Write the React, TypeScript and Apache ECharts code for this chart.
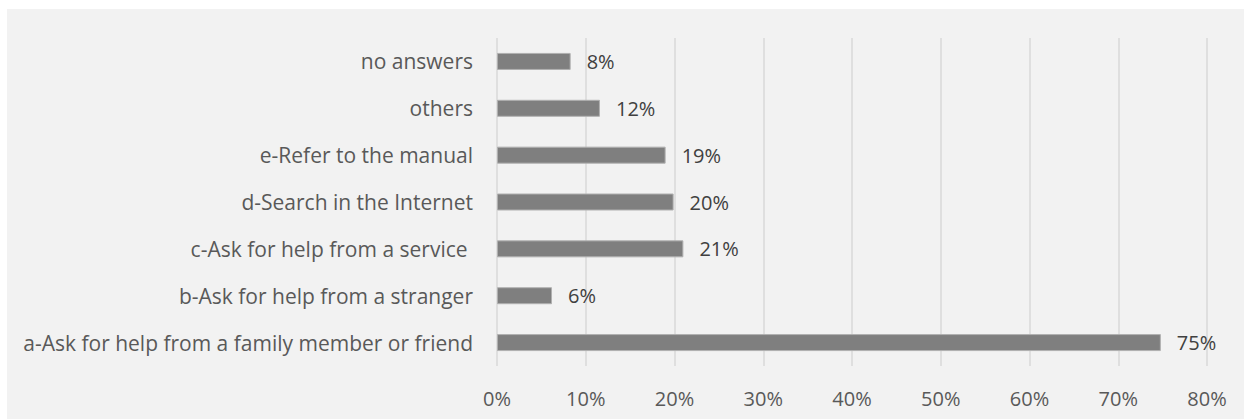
import React, { useEffect, useRef } from "react";
import * as echarts from "echarts";

const categories = [
  "a-Ask for help from a family member or friend",
  "b-Ask for help from a stranger",
  "c-Ask for help from a service ",
  "d-Search in the Internet",
  "e-Refer to the manual",
  "others",
  "no answers",
];
const values = [74.8, 6.2, 21.0, 19.9, 19.0, 11.6, 8.3];
const xTicks = [0, 10, 20, 30, 40, 50, 60, 70, 80];

export default function App() {
  const ref = useRef<HTMLDivElement>(null);
  useEffect(() => {
    if (!ref.current) return;
    const chart = echarts.init(ref.current, undefined, { renderer: "svg" });
    const font = "'Open Sans', 'Noto Sans', sans-serif";
    chart.setOption({
      animation: false,
      grid: { left: 490, right: 37, top: 29, bottom: 53, containLabel: false },
      xAxis: {
        type: "value",
        min: xTicks[0],
        max: xTicks[xTicks.length - 1],
        interval: 10,
        axisLine: { show: false },
        axisTick: { show: false },
        splitLine: { show: true, lineStyle: { color: "#d9d9d9", width: 1.5 } },
        axisLabel: {
          formatter: (v: number) => `${v}%`,
          color: "#595959",
          fontSize: 20,
          fontFamily: font,
          margin: 22,
        },
      },
      yAxis: {
        type: "category",
        data: categories,
        axisLine: { show: false },
        axisTick: { show: false },
        axisLabel: {
          color: "#595959",
          fontSize: 21,
          fontFamily: font,
          margin: 24,
        },
      },
      series: [
        {
          type: "bar",
          data: values,
          barWidth: 17,
          itemStyle: { color: "#7f7f7f", borderColor: "#b0b0b0", borderWidth: 1 },
          label: {
            show: true,
            position: "right",
            distance: 16,
            formatter: (p: any) => `${Math.round(p.value)}%`,
            color: "#404040",
            fontSize: 20,
            fontFamily: font,
          },
        },
      ],
    });
    return () => chart.dispose();
  }, []);
  return (
    <div style={{ position: "absolute", left: 0, top: 0, width: 1244, height: 419, background: "#ffffff" }}>
      <div style={{ position: "absolute", left: 7, top: 9, width: 1237, height: 410, background: "#f2f2f2" }}>
        <div ref={ref} style={{ width: 1237, height: 410 }} />
      </div>
    </div>
  );
}
